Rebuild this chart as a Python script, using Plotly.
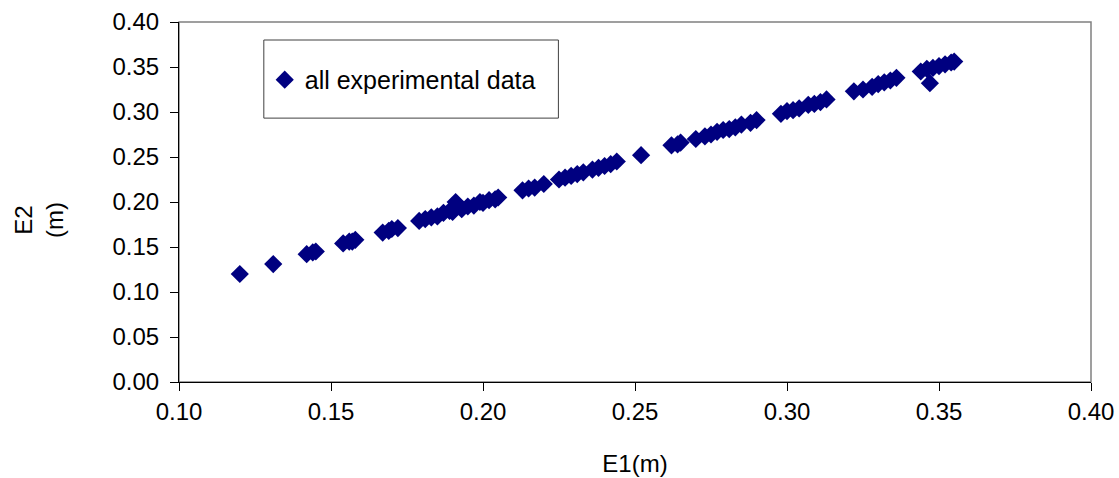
import plotly.graph_objects as go

# Measured displacements
E1 = [0.120, 0.131, 0.142, 0.144, 0.145, 0.154, 0.156, 0.157, 0.158, 0.167,
      0.169, 0.170, 0.172, 0.179, 0.181, 0.183, 0.185, 0.187, 0.189, 0.190,
      0.191, 0.193, 0.195, 0.197, 0.199, 0.200, 0.202, 0.204, 0.205, 0.213,
      0.215, 0.217, 0.220, 0.225, 0.227, 0.229, 0.231, 0.233, 0.236, 0.238,
      0.240, 0.242, 0.244, 0.252, 0.262, 0.264, 0.265, 0.270, 0.273, 0.275,
      0.277, 0.279, 0.281, 0.283, 0.285, 0.288, 0.290, 0.298, 0.300, 0.302,
      0.304, 0.307, 0.309, 0.311, 0.313, 0.322, 0.325, 0.328, 0.330, 0.332,
      0.334, 0.336, 0.344, 0.346, 0.348, 0.350, 0.352, 0.354, 0.355, 0.347]
E2 = [0.120, 0.131, 0.142, 0.144, 0.145, 0.154, 0.156, 0.156, 0.158, 0.166,
      0.168, 0.170, 0.171, 0.179, 0.181, 0.183, 0.184, 0.188, 0.190, 0.189,
      0.200, 0.192, 0.195, 0.196, 0.200, 0.199, 0.202, 0.203, 0.205, 0.213,
      0.215, 0.216, 0.220, 0.225, 0.227, 0.229, 0.231, 0.233, 0.236, 0.238,
      0.240, 0.242, 0.245, 0.252, 0.263, 0.264, 0.266, 0.270, 0.273, 0.275,
      0.278, 0.280, 0.281, 0.283, 0.286, 0.288, 0.291, 0.298, 0.301, 0.302,
      0.304, 0.308, 0.309, 0.311, 0.314, 0.323, 0.325, 0.328, 0.331, 0.333,
      0.335, 0.338, 0.345, 0.348, 0.349, 0.351, 0.353, 0.355, 0.356, 0.332]

X_TICKS = [0.10, 0.15, 0.20, 0.25, 0.30, 0.35, 0.40]
Y_TICKS = [0.00, 0.05, 0.10, 0.15, 0.20, 0.25, 0.30, 0.35, 0.40]

FONT = "Liberation Sans, Arial, sans-serif"
NAVY = "#000080"
FS = 24

fig = go.Figure()
fig.add_trace(go.Scatter(
    x=E1, y=E2, mode="markers", name="all experimental data",
    marker=dict(symbol="diamond", size=14, color=NAVY, line=dict(width=0)),
))

axis_common = dict(
    showgrid=False, zeroline=False, showline=True, linecolor="black",
    linewidth=1, ticks="outside", ticklen=8, tickcolor="black",
    tickformat=".2f", tickfont=dict(family=FONT, size=FS, color="black"),
    automargin=False,
)

fig.update_layout(
    width=1119, height=478,
    margin=dict(l=179, r=28, t=22, b=96),
    paper_bgcolor="white", plot_bgcolor="white",
    font=dict(family=FONT, color="black"),
    xaxis=dict(range=[0.10, 0.40], tickvals=X_TICKS, **axis_common,
               ticklabelstandoff=0,
               title=dict(text="E1(m)", font=dict(family=FONT, size=FS), standoff=31)),
    yaxis=dict(range=[0.0, 0.40], tickvals=Y_TICKS, **axis_common,
               ticklabelstandoff=6),
    showlegend=True,
    legend=dict(x=0.094, y=0.839, xanchor="left", yanchor="middle",
                bgcolor="rgba(0,0,0,0)", borderwidth=0,
                font=dict(family=FONT, size=25, color="black"),
                itemsizing="trace"),
    annotations=[
        # y-axis title, two stacked lines rotated
        dict(text="E2<br>(m)", textangle=-90, xref="paper", yref="paper",
             x=-0.1535, y=0.45, xanchor="center", yanchor="middle",
             showarrow=False, font=dict(family=FONT, size=FS, color="black")),
    ],
    shapes=[
        # plot-area frame
        dict(type="rect", xref="paper", yref="paper", x0=0, y0=0, x1=1, y1=1,
             line=dict(color="#808080", width=1.5), layer="below"),
        # legend box
        dict(type="rect", xref="paper", yref="paper",
             x0=0.093, x1=0.416, y0=0.733, y1=0.95,
             line=dict(color="#404040", width=1), fillcolor="white", layer="below"),
    ],
)

fig.write_html("out.html")
